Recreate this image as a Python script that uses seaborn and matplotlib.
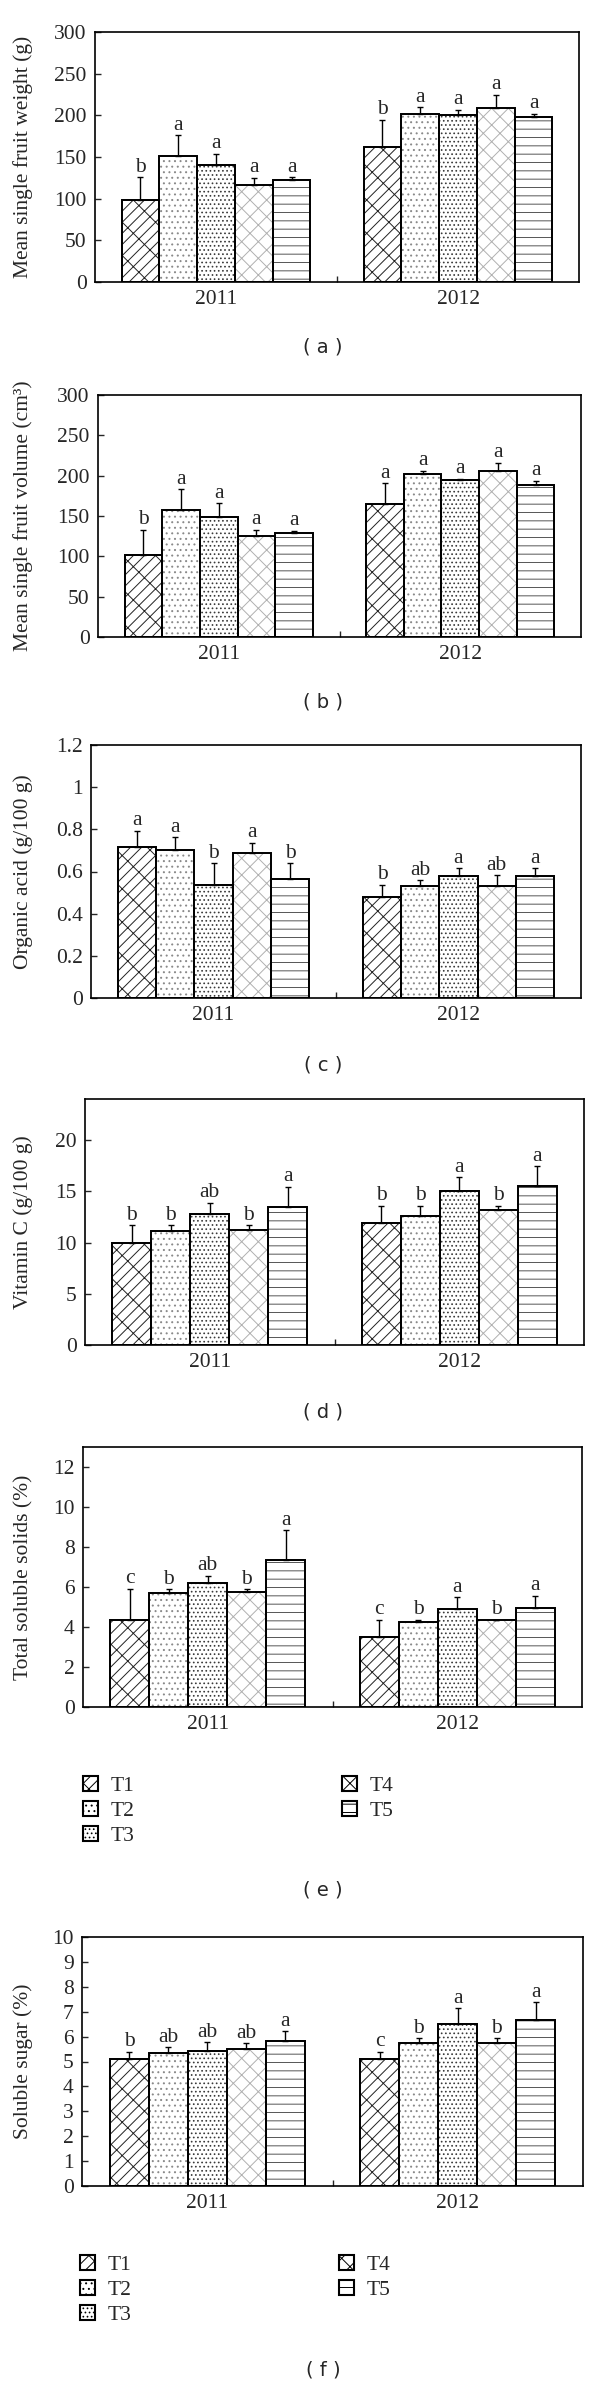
import pandas as pd
import seaborn as sns
import matplotlib.pyplot as plt
from matplotlib.patches import Patch, Rectangle

years = ['2011', '2012']
treatments = ['T1', 'T2', 'T3', 'T4', 'T5']

# (a) mean single fruit weight (g)
weight_2011 = [99, 151, 140, 116, 122]
weight_2012 = [162, 202, 200.5, 209, 198.5]
weight_err_2011 = [26.5, 25, 14, 9, 4]
weight_err_2012 = [33, 8, 6.5, 16, 3.5]
weight_sig_2011 = ['b', 'a', 'a', 'a', 'a']
weight_sig_2012 = ['b', 'a', 'a', 'a', 'a']

# (b) mean single fruit volume (cm3)
volume_2011 = [102, 158, 149, 125, 129.5]
volume_2012 = [165, 201.5, 194.5, 206, 188.7]
volume_err_2011 = [31, 25, 16.5, 8, 2.5]
volume_err_2012 = [26, 4.5, 1.5, 10, 5]
volume_sig_2011 = ['b', 'a', 'a', 'a', 'a']
volume_sig_2012 = ['a', 'a', 'a', 'a', 'a']

# (c) organic acid (g/100 g)
acid_2011 = [0.717, 0.701, 0.537, 0.690, 0.564]
acid_2012 = [0.479, 0.531, 0.577, 0.531, 0.577]
acid_err_2011 = [0.076, 0.062, 0.103, 0.046, 0.076]
acid_err_2012 = [0.058, 0.028, 0.039, 0.052, 0.039]
acid_sig_2011 = ['a', 'a', 'b', 'a', 'b']
acid_sig_2012 = ['b', 'ab', 'a', 'ab', 'a']

# (d) vitamin C (g/100 g)
vitc_2011 = [9.97, 11.08, 12.8, 11.2, 13.5]
vitc_2012 = [11.9, 12.55, 15.03, 13.14, 15.52]
vitc_err_2011 = [1.73, 0.62, 1.1, 0.5, 1.96]
vitc_err_2012 = [1.7, 1.05, 1.34, 0.46, 1.9]
vitc_sig_2011 = ['b', 'b', 'ab', 'b', 'a']
vitc_sig_2012 = ['b', 'b', 'a', 'b', 'a']

# (e) total soluble solids (%)
tss_2011 = [4.37, 5.7, 6.22, 5.75, 7.37]
tss_2012 = [3.5, 4.25, 4.9, 4.37, 4.97]
tss_err_2011 = [1.55, 0.2, 0.35, 0.15, 1.46]
tss_err_2012 = [0.87, 0.12, 0.6, 0.0, 0.6]
tss_sig_2011 = ['c', 'b', 'ab', 'b', 'a']
tss_sig_2012 = ['c', 'b', 'a', 'b', 'a']

# (f) soluble sugar (%)
sugar_2011 = [5.11, 5.34, 5.44, 5.50, 5.81]
sugar_2012 = [5.11, 5.73, 6.52, 5.73, 6.65]
sugar_err_2011 = [0.29, 0.24, 0.33, 0.23, 0.40]
sugar_err_2012 = [0.29, 0.21, 0.63, 0.21, 0.74]
sugar_sig_2011 = ['b', 'ab', 'ab', 'ab', 'a']
sugar_sig_2012 = ['c', 'b', 'a', 'b', 'a']

hatches = ['///\\', '...', '....', 'xx', '--']
hatch_colors = ['#222222', '#8a8a8a', '#3a3a3a', '#b0b0b0', '#555555']

sns.set_style('white')
plt.rcParams['font.family'] = ['Liberation Serif', 'DejaVu Serif']
plt.rcParams['hatch.linewidth'] = 0.7

W, H = 600, 2384
FS = 15.5
fig = plt.figure(figsize=(W / 100, H / 100), dpi=100)


def axes_at(left, top, right, bottom):
    return fig.add_axes([left / W, 1 - bottom / H, (right - left) / W, (bottom - top) / H])


def draw_panel(ax, m11, m12, e11, e12, s11, s12, ylabel, ylim, yticks, yticklabels, left, width):
    df = pd.DataFrame({
        'Year': ['2011'] * 5 + ['2012'] * 5,
        'Treatment': treatments * 2,
        'Value': m11 + m12,
    })
    sns.barplot(data=df, x='Year', y='Value', hue='Treatment', order=years,
                hue_order=treatments, palette=dict(zip(treatments, ['white'] * 5)),
                saturation=1, errorbar=None, width=0.78, legend=False,
                edgecolor='black', linewidth=1.1, ax=ax)
    errs = [e11, e12]
    sigs = [s11, s12]
    bar_groups = list(ax.containers)
    for i, cont in enumerate(bar_groups):
        for j, bar in enumerate(list(cont)):
            bar.set_hatch(hatches[i])
            bar.set_edgecolor(hatch_colors[i])
            x0, w, h = bar.get_x(), bar.get_width(), bar.get_height()
            ax.add_patch(Rectangle((x0, 0), w, h, fill=False, edgecolor='black',
                                   linewidth=1.4, zorder=bar.get_zorder() + 0.1))
            err = errs[j][i]
            ax.errorbar(x0 + w / 2, h, yerr=[[0], [err]], fmt='none', ecolor='black',
                        elinewidth=1.0, capsize=2.5, capthick=1.0, zorder=1)
            ax.annotate(sigs[j][i], xy=(x0 + w / 2, h + err), xytext=(0, 0.3),
                        textcoords='offset points', ha='center', va='bottom', fontsize=FS)
    ax.set_xlim(-0.5, 1.5)
    ax.set_ylim(*ylim)
    ax.set_yticks(yticks)
    ax.set_yticklabels(yticklabels)
    ax.set_xlabel('')
    ax.set_ylabel(ylabel, fontsize=FS)
    ax.yaxis.set_label_coords((33 - left) / width, 0.5)
    ax.set_xticks([0.5], minor=True)
    ax.tick_params(axis='y', direction='in', length=4, width=1, labelsize=FS, pad=6, left=True)
    ax.tick_params(axis='x', which='major', length=0, labelsize=FS, pad=6)
    ax.tick_params(axis='x', which='minor', direction='in', length=4, width=1, bottom=True)
    for sp in ax.spines.values():
        sp.set_linewidth(1.2)
        sp.set_color('black')


panels = [
    ((95, 32, 579, 282), weight_2011, weight_2012, weight_err_2011, weight_err_2012,
     weight_sig_2011, weight_sig_2012, 'Mean single fruit weight (g)', (0, 300),
     list(range(0, 301, 50)), [str(v) for v in range(0, 301, 50)], '( a )', 347),
    ((98, 395, 581, 637), volume_2011, volume_2012, volume_err_2011, volume_err_2012,
     volume_sig_2011, volume_sig_2012, 'Mean single fruit volume (cm³)', (0, 300),
     list(range(0, 301, 50)), [str(v) for v in range(0, 301, 50)], '( b )', 702),
    ((91, 745, 581, 998), acid_2011, acid_2012, acid_err_2011, acid_err_2012,
     acid_sig_2011, acid_sig_2012, 'Organic acid (g/100 g)', (0, 1.2),
     [0, 0.2, 0.4, 0.6, 0.8, 1.0, 1.2], ['0', '0.2', '0.4', '0.6', '0.8', '1', '1.2'], '( c )', 1065),
    ((85, 1099, 584, 1345), vitc_2011, vitc_2012, vitc_err_2011, vitc_err_2012,
     vitc_sig_2011, vitc_sig_2012, 'Vitamin C (g/100 g)', (0, 24),
     [0, 5, 10, 15, 20], ['0', '5', '10', '15', '20'], '( d )', 1412),
    ((83, 1447, 582, 1707), tss_2011, tss_2012, tss_err_2011, tss_err_2012,
     tss_sig_2011, tss_sig_2012, 'Total soluble solids (%)', (0, 13),
     list(range(0, 13, 2)), [str(v) for v in range(0, 13, 2)], '( e )', 1890),
    ((82, 1937, 583, 2186), sugar_2011, sugar_2012, sugar_err_2011, sugar_err_2012,
     sugar_sig_2011, sugar_sig_2012, 'Soluble sugar (%)', (0, 10),
     list(range(0, 11)), [str(v) for v in range(0, 11)], '( f )', 2370),
]

for box, m11, m12, e11, e12, s11, s12, ylabel, ylim, yt, ytl, tag, tag_y in panels:
    ax = axes_at(*box)
    draw_panel(ax, m11, m12, e11, e12, s11, s12, ylabel, ylim, yt, ytl, box[0], box[2] - box[0])
    fig.text(323 / W, 1 - tag_y / H, tag, ha='center', va='center',
             family='DejaVu Sans', fontsize=14)

# legends under (e) and (f)
for lx, ly in [(83, 1776), (80, 2255)]:
    handles = [Patch(facecolor='white', edgecolor='black', hatch=h, linewidth=1.5)
               for h in hatches]
    fig.legend(handles, treatments, ncol=2, loc='upper left',
               bbox_to_anchor=(lx / W, 1 - ly / H), frameon=False, fontsize=FS,
               handlelength=0.7, handleheight=0.7, handletextpad=0.6,
               columnspacing=9.6, labelspacing=0.22, borderpad=0, borderaxespad=0)

fig.savefig('out.png', dpi=100)
